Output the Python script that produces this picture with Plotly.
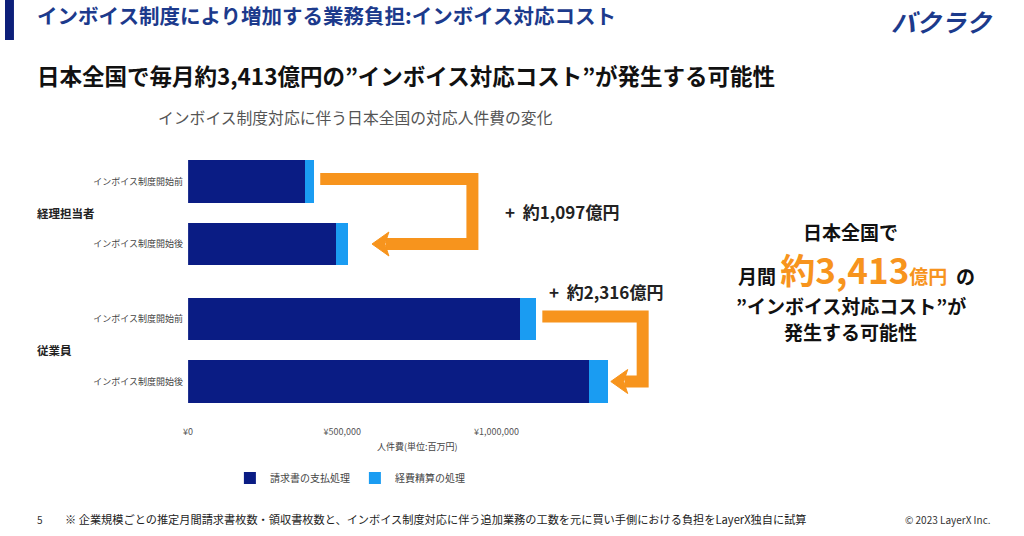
import plotly.graph_objects as go

# data (単位: 百万円)
groups = ["経理担当者", "従業員"]
phases = ["インボイス制度開始前", "インボイス制度開始後"]
series_names = ["請求書の支払処理", "経費精算の処理"]
invoice_cost = [378000, 481000, 1075000, 1300000]
expense_cost = [31000, 37700, 54000, 60600]
increase_labels = ["+  約1,097億円", "+  約2,316億円"]
x_ticks = [0, 500000, 1000000]
x_tick_labels = ["¥0", "¥500,000", "¥1,000,000"]

FONT = "Noto Sans CJK JP"
NAVY = "#0a1c84"
SKY = "#1a9cf2"
ORANGE = "#f7941d"
HEADER_BLUE = "#1c3a8c"

W, H = 1024, 536
X_MAX = 1650000
GROUP_GAP = 0.2

# bar positions: two bars per group, a little extra space between groups
y_pos = []
tick_text = []
for g, _ in enumerate(groups):
    for i, phase in enumerate(phases):
        y_pos.append(g * (len(phases) + GROUP_GAP) + i)
        tick_text.append(phase)
totals = [a + b for a, b in zip(invoice_cost, expense_cost)]

fig = go.Figure()
fig.add_trace(go.Bar(y=y_pos, x=invoice_cost, orientation="h", name=series_names[0],
                     marker=dict(color=NAVY, line=dict(width=0)), width=0.68))
fig.add_trace(go.Bar(y=y_pos, x=expense_cost, orientation="h", name=series_names[1],
                     marker=dict(color=SKY, line=dict(width=0)), width=0.68))

x_dom = [184 / W, (184 + X_MAX / 3226) / W]
y_top_px, y_bot_px = 150.25, 412.75
fig.update_layout(
    width=W, height=H, barmode="stack",
    margin=dict(l=0, r=0, t=0, b=0),
    paper_bgcolor="white", plot_bgcolor="white",
    font=dict(family=FONT, color="#333"),
    xaxis=dict(domain=x_dom, range=[0, X_MAX], tickvals=x_ticks, ticktext=x_tick_labels,
               showgrid=False, zeroline=False, showline=False, ticks="",
               tickfont=dict(size=9, color="#555"), ticklabelstandoff=12),
    yaxis=dict(domain=[1 - y_bot_px / H, 1 - y_top_px / H],
               range=[y_pos[-1] + 0.5, -0.5], tickvals=y_pos, ticktext=tick_text,
               showgrid=False, zeroline=False, showline=False, ticks="",
               tickfont=dict(size=9, color="#444"), ticklabelstandoff=4),
    legend=dict(orientation="h", x=226 / W, y=1 - 478 / H, xanchor="left", yanchor="middle",
                font=dict(size=10, color="#444"), itemwidth=30, traceorder="normal"),
    showlegend=True,
)

# orange elbow arrows from "before" to "after"
px = 3226  # data units per pixel on x
unit_y = 62.5  # pixels per y unit
reach = [403000, 113000]
for k in range(len(groups)):
    yb, ya = y_pos[2 * k], y_pos[2 * k + 1]
    x0 = totals[2 * k] + 6 * px
    xc = totals[2 * k + 1] + reach[k]
    tip = totals[2 * k + 1] + (24 if k == 0 else 3) * px
    base = tip + 14 * px
    path = f"M {x0},{yb - 0.04} L {xc},{yb - 0.04} L {xc},{ya} L {base},{ya}"
    fig.add_shape(type="path", path=path, xref="x", yref="y",
                  line=dict(color=ORANGE, width=12))
    hh = 12 / unit_y
    head = (f"M {tip},{ya} L {tip + 17 * px},{ya - hh} L {tip + 13 * px},{ya} "
            f"L {tip + 17 * px},{ya + hh} Z")
    fig.add_shape(type="path", path=head, xref="x", yref="y",
                  fillcolor=ORANGE, line=dict(color=ORANGE, width=1))


def note(x_px, y_px, text, size, color="#222", anchor="left"):
    return dict(x=x_px / W, y=1 - y_px / H, xref="paper", yref="paper", text=text,
                xanchor=anchor, yanchor="middle", showarrow=False,
                font=dict(size=size, color=color, family=FONT))


ann = []
# increase labels
ann.append(note(500, 212, f"<b>{increase_labels[0]}</b>", 17))
ann.append(note(545, 291, f"<b>{increase_labels[1]}</b>", 17))

# group labels
for g, name in enumerate(groups):
    yc = (y_pos[2 * g] + y_pos[2 * g + 1]) / 2
    ann.append(dict(x=30 / W, xref="paper", y=yc, yref="y", text=f"<b>{name}</b>",
                    xanchor="left", yanchor="middle", showarrow=False,
                    font=dict(size=11.5, color="#222", family=FONT)))

# axis title and chart title
ann.append(note(415, 446, "人件費(単位:百万円)", 9, "#444", "center"))
ann.append(note(152, 117, "インボイス制度対応に伴う日本全国の対応人件費の変化", 15.8, "#555"))

# slide header
ann.append(note(30, 15, "<b>インボイス制度により増加する業務負担:インボイス対応コスト</b>",
                20.5, HEADER_BLUE))
ann.append(note(942, 21, "<b><i>バクラク</i></b>", 25, HEADER_BLUE, "center"))
ann.append(note(30, 75, "<b>日本全国で毎月約3,413億円の”インボイス対応コスト”が発生する可能性</b>",
                22.5, "#111"))

# right call-out
ann.append(note(850, 231, "<b>日本全国で</b>", 19, "#111", "center"))
ann.append(note(856, 268,
                ("<b>月間 <span style='color:%s;font-size:35px'>約3,413</span>"
                 "<span style='color:%s;font-size:19px'>億円</span>  の</b>") % (ORANGE, ORANGE),
                19, "#111", "center"))
ann.append(note(850, 305, "<b>”インボイス対応コスト”が</b>", 19, "#111", "center"))
ann.append(note(850, 331, "<b>発生する可能性</b>", 19, "#111", "center"))

# footer
ann.append(note(30, 519, "5", 10, "#333"))
ann.append(note(58, 519,
                "※ 企業規模ごとの推定月間請求書枚数・領収書枚数と、インボイス制度対応に伴う追加業務の工数を元に買い手側における負担をLayerX独自に試算",
                11.2, "#222"))
ann.append(note(993, 519, "© 2023 LayerX Inc.", 10, "#333", "right"))

fig.update_layout(annotations=ann)

# header accent bar
fig.add_shape(type="rect", xref="paper", yref="paper", x0=0, x1=9 / W,
              y0=1 - 40 / H, y1=1, fillcolor="#0d1f7a", line=dict(width=0))

fig.write_html(
    "out.html",
    config={"displayModeBar": False},
    post_script="document.body.style.margin='0';document.body.style.overflow='hidden';",
)
